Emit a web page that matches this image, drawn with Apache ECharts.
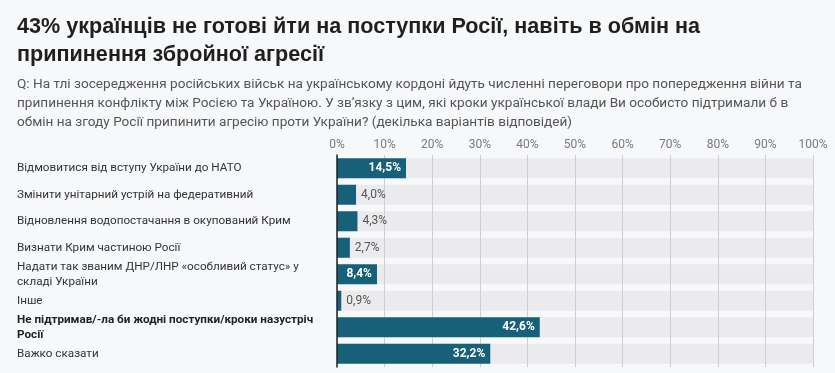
<!DOCTYPE html>
<html><head><meta charset="utf-8">
<script src="https://cdn.jsdelivr.net/npm/echarts@6/dist/echarts.min.js"></script>
<style>html,body{margin:0;padding:0;background:#f7f8fa;}#c{width:835px;height:373px;}</style>
</head><body><div id="c"></div>
<script>
const titleText = "43% українців не готові йти на поступки Росії, навіть в обмін на\nприпинення збройної агресії";
const subtitleText = "Q: На тлі зосередження російських військ на українському кордоні йдуть численні переговори про попередження війни та\nприпинення конфлікту між Росією та Україною. У зв’язку з цим, які кроки української влади Ви особисто підтримали б в\nобмін на згоду Росії припинити агресію проти України? (декілька варіантів відповідей)";
const categories = [
  "Відмовитися від вступу України до НАТО",
  "Змінити унітарний устрій на федеративний",
  "Відновлення водопостачання в окупований Крим",
  "Визнати Крим частиною Росії",
  "Надати так званим ДНР/ЛНР «особливий статус» у\nскладі України",
  "Інше",
  "Не підтримав/-ла би жодні поступки/кроки назустріч\nРосії",
  "Важко сказати"
];
const values = [14.5, 4.0, 4.3, 2.7, 8.4, 0.9, 42.6, 32.2];
const boldCategory = "Не підтримав/-ла би жодні поступки/кроки назустріч\nРосії";
const xTicks = [0, 10, 20, 30, 40, 50, 60, 70, 80, 90, 100];

const fmt = v => v.toFixed(1).replace('.', ',') + '%';
const barColor = '#17607a';

const chart = echarts.init(document.getElementById('c'), null, {renderer: 'canvas'});
chart.setOption({
  backgroundColor: '#f7f8fa',
  animation: false,
  title: [
    {text: titleText, left: 17, top: 13, padding: 0,
     textStyle: {fontFamily: 'Liberation Sans, Arial', fontSize: 21.6, fontWeight: 'bold', color: '#1f1f1f', lineHeight: 28}},
    {text: subtitleText, left: 17, top: 75, padding: 0,
     textStyle: {fontFamily: 'Roboto', fontSize: 13.6, fontWeight: 'normal', color: '#555', lineHeight: 19}}
  ],
  grid: {left: 337, right: 22, top: 155, bottom: 6, containLabel: false},
  xAxis: {
    type: 'value', position: 'top', min: 0, max: 100, interval: 10, z: 2,
    axisLine: {show: false}, axisTick: {show: false},
    splitLine: {show: true, lineStyle: {color: '#cfcfd1', width: 1}},
    axisLabel: {margin: 4, color: '#7a7a7a', fontFamily: 'Roboto', fontSize: 12,
      formatter: v => xTicks.indexOf(v) >= 0 ? v + '%' : ''}
  },
  yAxis: {
    type: 'category', inverse: true, data: categories, z: 4,
    axisLine: {show: true, lineStyle: {color: '#222', width: 1.5}},
    axisTick: {show: false},
    axisLabel: {
      align: 'left', margin: 320, color: '#333', fontFamily: 'Roboto', fontSize: 11.7, lineHeight: 15,
      formatter: v => v === boldCategory ? v.split('\n').map(s => '{b|' + s + '}').join('\n') : v,
      rich: {b: {fontWeight: 'bold', color: '#222', fontFamily: 'Roboto', fontSize: 11.7, lineHeight: 15}}
    }
  },
  series: [
    {
      type: 'bar', silent: true, z: 1, barWidth: 20, barGap: '-100%',
      data: categories.map(() => 100),
      itemStyle: {color: '#ebebed'}, label: {show: false}
    },
    {
      type: 'bar', z: 3, barWidth: 20, barGap: '-100%',
      data: values.map(v => ({
        value: v,
        label: v >= 8 ? {position: 'insideRight', color: '#fff', fontWeight: 'bold', distance: 5}
                     : {position: 'right', color: '#555', fontWeight: 'normal', distance: 5}
      })),
      itemStyle: {color: barColor},
      label: {show: true, fontFamily: 'Roboto', fontSize: 12, formatter: p => fmt(p.value)}
    }
  ]
});
</script></body></html>
